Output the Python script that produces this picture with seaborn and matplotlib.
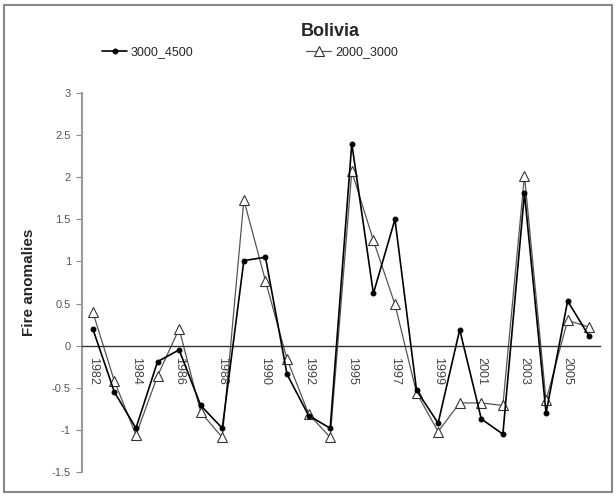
import numpy as np
import pandas as pd
import seaborn as sns
import matplotlib.pyplot as plt
from matplotlib.patches import Rectangle

# years on the category axis (1994 is missing in the source chart)
years = [1982, 1983, 1984, 1985, 1986, 1987, 1988, 1989, 1990, 1991, 1992, 1993,
         1995, 1996, 1997, 1998, 1999, 2000, 2001, 2002, 2003, 2004, 2005, 2006]

s_3000_4500 = [0.20, -0.55, -0.98, -0.19, -0.05, -0.71, -0.98, 1.01, 1.05, -0.34, -0.83, -0.98,
               2.40, 0.62, 1.50, -0.53, -0.92, 0.19, -0.87, -1.05, 1.81, -0.80, 0.53, 0.11]
s_2000_3000 = [0.40, -0.42, -1.06, -0.36, 0.20, -0.79, -1.09, 1.73, 0.77, -0.16, -0.81, -1.09,
               2.07, 1.25, 0.49, -0.56, -1.02, -0.68, -0.68, -0.71, 2.02, -0.65, 0.30, 0.22]

shown_labels = [1982, 1984, 1986, 1988, 1990, 1992, 1995, 1997, 1999, 2001, 2003, 2005]

sns.set_style("white")
plt.rcParams['font.family'] = ['Liberation Sans', 'DejaVu Sans']

df = pd.DataFrame({"idx": np.arange(len(years)), "year": years,
                   "a": s_3000_4500, "b": s_2000_3000})

fig = plt.figure(figsize=(6.16, 4.97), dpi=100)
ax = fig.add_axes([82/616, 1 - 472/497, 518/616, 379/497])

sns.lineplot(data=df, x="idx", y="a", ax=ax, color="black", lw=1.2,
             marker="o", markersize=3.5, markerfacecolor="black", markeredgecolor="black",
             label="3000_4500", zorder=3)
sns.lineplot(data=df, x="idx", y="b", ax=ax, color="#555555", lw=0.9,
             marker="^", markersize=7, markerfacecolor="white", markeredgecolor="#333333",
             markeredgewidth=0.8, label="2000_3000", zorder=2)

ax.set_xlim(-0.5, len(years) - 0.5)
ax.set_ylim(-1.5, 3)
yt = np.arange(-1.5, 3.01, 0.5)
ax.set_yticks(yt)
ax.set_yticklabels([f"{v:g}" for v in yt])

# category labels every other year, ticks between categories
pos = [years.index(y) for y in shown_labels]
ax.set_xticks(pos)
ax.set_xticklabels([str(y) for y in shown_labels])
ax.set_xticks(np.arange(-0.5, len(years), 1), minor=True)
ax.tick_params(axis="x", which="major", length=0, pad=8, labelrotation=270,
               labelsize=9, labelcolor="#444444")
ax.tick_params(axis="x", which="minor", length=4, direction="out", color="#444444", width=0.8)
for t in ax.get_xticklabels():
    t.set_va("top")
    t.set_ha("center")

ax.tick_params(axis="y", length=4, direction="out", color="#888888", labelsize=8,
               labelcolor="#555555", left=True, width=0.8, pad=4)

for s in ["top", "right"]:
    ax.spines[s].set_visible(False)
ax.spines["bottom"].set_position(("data", 0))
ax.spines["bottom"].set_color("#333333")
ax.spines["bottom"].set_linewidth(1)
ax.spines["left"].set_color("#999999")
ax.spines["left"].set_linewidth(1.5)

ax.set_xlabel("")
ax.set_ylabel("Fire anomalies", fontsize=11, fontweight="bold")
ax.yaxis.set_label_coords((36 - 82) / 518, 0.5)

ax.get_legend().remove()
h, l = ax.get_legend_handles_labels()
fig.legend(h, l, loc="center", bbox_to_anchor=(250/616, 1 - 52/497), ncol=2,
           frameon=False, fontsize=9, handlelength=2, columnspacing=9, handletextpad=0.3)

fig.text(330/616, 1 - 31/497, "Bolivia", ha="center", va="center",
         fontsize=13, fontweight="bold")

fig.patches.append(Rectangle((4/616, 5/497), 608/616, 487/497, transform=fig.transFigure,
                             fill=False, edgecolor="#888888", lw=1.5))

fig.savefig("out.png", dpi=100)
